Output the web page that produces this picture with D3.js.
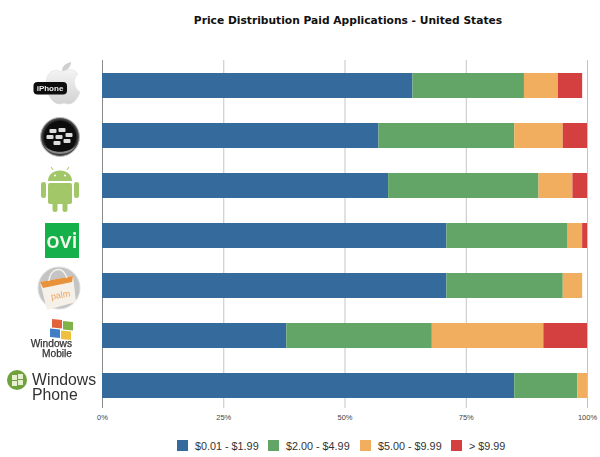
<!DOCTYPE html>
<html>
<head>
<meta charset="utf-8">
<script src="https://cdn.jsdelivr.net/npm/d3@7"></script>
<style>
body { margin: 0; background: #fff; }
text { font-family: "Liberation Sans", sans-serif; }
</style>
</head>
<body>
<svg id="chart" width="600" height="457"></svg>
<script>
const platforms = ["iPhone", "BlackBerry", "Android", "Ovi", "Palm", "Windows Mobile", "Windows Phone"];
const priceBands = ["$0.01 - $1.99", "$2.00 - $4.99", "$5.00 - $9.99", "> $9.99"];
const colors = ["#356a9c", "#62a567", "#f0ae5e", "#d43f3f"];
const band1 = [64, 57, 59, 71, 71, 38, 85];
const band2 = [23, 28, 31, 25, 24, 30, 13];
const band3 = [7, 10, 7, 3, 4, 23, 2];
const band4 = [5, 5, 3, 1, 0, 9, 0];
const tickValues = [0, 25, 50, 75, 100];

const svg = d3.select("#chart");
const margin = { top: 60, left: 102, right: 13, bottom: 46 };
const width = 600, height = 457;

// SCALES
const xScale = d3.scaleLinear()
    .domain([0, 100])
    .range([margin.left, width - margin.right]);

const yScale = d3.scaleBand()
    .domain(platforms)
    .range([margin.top, height - margin.bottom])
    .paddingInner(0.5)
    .paddingOuter(0.26);

const rows = platforms.map((name, i) => ({
    name, 0: band1[i], 1: band2[i], 2: band3[i], 3: band4[i]
}));
const stacked = d3.stack().keys([0, 1, 2, 3])(rows);

// TITLE
svg.append("text")
    .attr("x", 348)
    .attr("y", 24)
    .attr("text-anchor", "middle")
    .style("font-family", "'DejaVu Sans', sans-serif")
    .style("font-weight", "bold")
    .style("font-size", "10.7px")
    .attr("fill", "#111")
    .text("Price Distribution Paid Applications - United States");

// AXIS
const xAxis = svg.append("g")
    .attr("transform", `translate(0,${margin.top})`)
    .call(d3.axisBottom(xScale)
        .tickValues(tickValues)
        .tickSize(348)
        .tickPadding(7)
        .tickFormat(d => d + "%"));
xAxis.select(".domain").remove();
xAxis.selectAll("line").attr("stroke", d => d === 0 ? "#8c8c8c" : "#c4c4c4");
xAxis.selectAll("text")
    .style("font-size", "7.5px")
    .attr("fill", "#444");

// BARS
svg.append("g").selectAll("g")
    .data(stacked)
    .join("g")
    .attr("fill", d => colors[d.key])
    .selectAll("rect")
    .data(d => d.filter(s => s[1] > s[0]))
    .join("rect")
    .attr("x", d => xScale(d[0]))
    .attr("y", d => yScale(d.data.name))
    .attr("width", d => xScale(d[1]) - xScale(d[0]))
    .attr("height", yScale.bandwidth());

// LEGEND
const legendX = [177, 268, 360, 451];
const legend = svg.append("g").selectAll("g")
    .data(priceBands)
    .join("g")
    .attr("transform", (d, i) => `translate(${legendX[i]},440)`);
legend.append("rect")
    .attr("width", 11)
    .attr("height", 11)
    .attr("fill", (d, i) => colors[i]);
legend.append("text")
    .attr("x", 18)
    .attr("y", 9.5)
    .style("font-size", "10.8px")
    .attr("fill", "#333")
    .text(d => d);

// LOGOS
const defs = svg.append("defs");
defs.append("filter").attr("id", "soft")
    .append("feGaussianBlur").attr("stdDeviation", 0.35);
const logos = svg.append("g").attr("filter", "url(#soft)");

const appleGrad = defs.append("linearGradient").attr("id", "appleGrad")
    .attr("x1", 0).attr("y1", 0).attr("x2", 0).attr("y2", 1);
appleGrad.append("stop").attr("offset", 0).attr("stop-color", "#f4f4f4");
appleGrad.append("stop").attr("offset", 1).attr("stop-color", "#d2d2d2");

const bbGrad = defs.append("radialGradient").attr("id", "bbGrad");
bbGrad.append("stop").attr("offset", 0.8).attr("stop-color", "#0d0d0d");
bbGrad.append("stop").attr("offset", 1).attr("stop-color", "#666");

// iPhone
logos.append("path")
    .attr("d", "M62 72 C55 68 46 71 46 84 C46 95 54 105 60 104 C63 103 65 103 68 104 C73 105 78 98 80 92 C74 89 72 78 78 74 C74 68 67 69 62 72 Z")
    .attr("fill", "url(#appleGrad)")
    .attr("stroke", "#ddd").attr("stroke-width", 0.5);
logos.append("path")
    .attr("d", "M62 71 C62 66 66 63 71 62 C71 67 67 71 62 71 Z")
    .attr("fill", "#cfcfcf");
logos.append("rect")
    .attr("x", 33.5).attr("y", 82).attr("width", 33.5).attr("height", 12.5).attr("rx", 4)
    .attr("fill", "#0c0c0c");
logos.append("text")
    .attr("x", 50).attr("y", 91).attr("text-anchor", "middle")
    .style("font-size", "8px").style("font-weight", "bold")
    .attr("fill", "#eee").text("iPhone");

// BlackBerry
logos.append("circle").attr("cx", 60).attr("cy", 137).attr("r", 19.5)
    .attr("fill", "url(#bbGrad)").attr("stroke", "#bbb").attr("stroke-width", 1);
logos.append("path")
    .attr("d", "M44 145 C50 154 70 154 76 145 C72 157 48 157 44 145 Z")
    .attr("fill", "#888");
logos.selectAll(".bb").data([[53, 131], [62, 130], [50, 137], [59, 137], [69, 135], [57, 143], [67, 141]])
    .join("rect")
    .attr("x", d => d[0] - 3.5).attr("y", d => d[1] - 2)
    .attr("width", 7).attr("height", 4).attr("rx", 1)
    .attr("fill", "#ddd");

// Android
const androidGreen = "#a2c768";
logos.append("path")
    .attr("d", "M48 181 C48 167 72 167 72 181 Z")
    .attr("fill", androidGreen);
logos.append("path")
    .attr("d", "M53 170 L51 167 M67 170 L69 167")
    .attr("stroke", androidGreen).attr("stroke-width", 1);
logos.append("rect").attr("x", 48).attr("y", 183).attr("width", 24).attr("height", 21).attr("rx", 2).attr("fill", androidGreen);
logos.selectAll(".arm").data([41, 74])
    .join("rect")
    .attr("x", d => d).attr("y", 182).attr("width", 5).attr("height", 16).attr("rx", 2.5)
    .attr("fill", androidGreen);
logos.selectAll(".leg").data([52.5, 62.5])
    .join("rect")
    .attr("x", d => d).attr("y", 198).attr("width", 5).attr("height", 14).attr("rx", 2.5)
    .attr("fill", androidGreen);
logos.selectAll(".eye").data([55, 65])
    .join("circle")
    .attr("cx", d => d).attr("cy", 175.5).attr("r", 1).attr("fill", "#fff");

// Ovi
logos.append("rect").attr("x", 45).attr("y", 223).attr("width", 34).attr("height", 35).attr("fill", "#12b04c");
logos.append("text")
    .attr("x", 62).attr("y", 248).attr("text-anchor", "middle")
    .style("font-size", "22px").style("font-weight", 600).style("font-family", "'Open Sans', sans-serif")
    .attr("fill", "#f2f7e8").text("ovi");

// Palm
logos.append("circle").attr("cx", 59).attr("cy", 288).attr("r", 21)
    .attr("fill", "#c4c4c4").attr("stroke", "#ddd");
logos.append("path")
    .attr("d", "M40 282 L73 276 L76 302 L47 310 Z")
    .attr("fill", "#f6f1e8");
logos.append("path")
    .attr("d", "M40 282 L73 276 L72 282 L43 288 Z")
    .attr("fill", "#e8923a");
logos.append("path")
    .attr("d", "M49 281 C50 269 62 264 67 278")
    .attr("fill", "none").attr("stroke", "#f4f1ea").attr("stroke-width", 1.5);
logos.append("text")
    .attr("x", 61).attr("y", 298).attr("text-anchor", "middle")
    .attr("transform", "rotate(-10 61 298)")
    .style("font-size", "9px")
    .attr("fill", "#eca562").text("palm");

// Windows Mobile
const flagColors = ["#e2633a", "#7fb24a", "#3f7fc4", "#edc13e"];
logos.selectAll(".wm").data([[52, 319], [63, 321], [50, 328.5], [61, 330.5]])
    .join("rect")
    .attr("x", d => d[0]).attr("y", d => d[1])
    .attr("width", 10).attr("height", 8.5)
    .attr("transform", d => `skewY(6) translate(0,${-d[0] * 0.105})`)
    .attr("fill", (d, i) => flagColors[i]);
const wmLabel = logos.append("text")
    .attr("text-anchor", "end")
    .style("font-size", "10.2px")
    .attr("fill", "#333")
    .attr("stroke", "#333").attr("stroke-width", 0.25);
wmLabel.append("tspan").attr("x", 72).attr("y", 347).text("Windows");
wmLabel.append("tspan").attr("x", 72).attr("y", 357).text("Mobile");

// Windows Phone
logos.append("circle").attr("cx", 17).attr("cy", 380).attr("r", 10).attr("fill", "#6fa23a");
logos.selectAll(".wp").data([[12, 375], [18, 374], [12, 381], [18, 380]])
    .join("rect")
    .attr("x", d => d[0]).attr("y", d => d[1])
    .attr("width", 5).attr("height", 5)
    .attr("fill", "#e6f0d0");
const wpLabel = logos.append("text")
    .style("font-size", "15.8px")
    .attr("fill", "#333");
wpLabel.append("tspan").attr("x", 32).attr("y", 385).text("Windows");
wpLabel.append("tspan").attr("x", 32).attr("y", 400).text("Phone");
</script>
</body>
</html>
